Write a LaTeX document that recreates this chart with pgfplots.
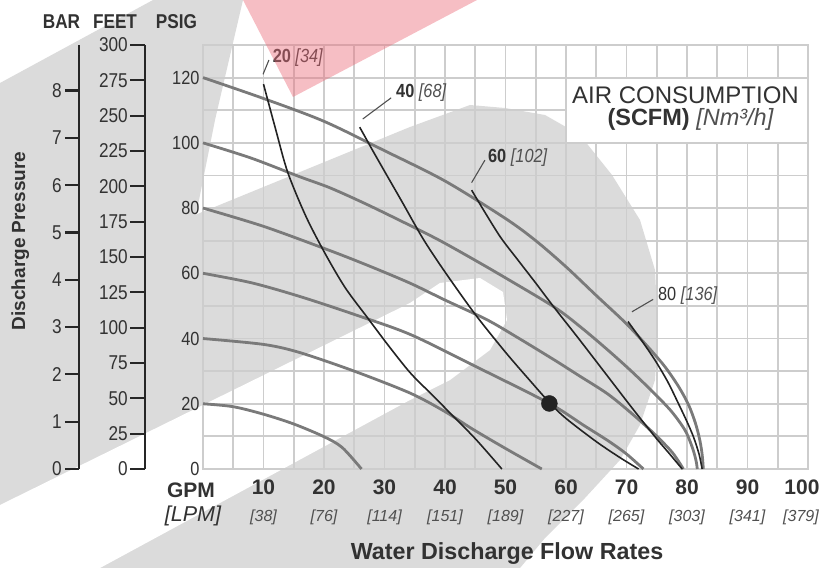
\documentclass[border=0pt]{standalone}
\usepackage{pgfplots}
\pgfplotsset{compat=1.18}
\usepackage{fontspec}
\setmainfont{Liberation Sans}
\newfontfamily\cond{Liberation Sans}[FakeStretch=0.86]
\definecolor{gridc}{RGB}{205,205,205}
\definecolor{curveg}{RGB}{122,122,122}
\definecolor{curveb}{RGB}{35,35,35}
\definecolor{txt}{RGB}{50,50,50}
\definecolor{txtl}{RGB}{80,80,80}
\definecolor{wm}{RGB}{219,219,219}
\definecolor{pinkwm}{RGB}{236,110,125}
\newcommand{\fs}[1]{\fontsize{#1}{#1}\selectfont}
\begin{document}
\begin{tikzpicture}[x=1pt,y=1pt]
\useasboundingbox (0,0) rectangle (828,568);
% watermark (background)
\fill[wm] (0,0) -- (0,485) -- (153,568) -- (243,568) -- (215,448) -- (196,353) -- (196,0) -- cycle;
\fill[wm] (195,0) -- (195,353) -- (410,441) -- (470,463) -- (505,460) -- (545,453) -- (580,433) -- (612,393) -- (640,348) -- (655,298) -- (658,238) -- (655,188) -- (640,143) -- (620,108) -- (585,70) -- (545,30) -- (520,0) -- cycle;
\fill[white] (0,63) -- (410,265) -- (440,285) -- (480,290) -- (503,276) -- (507,248) -- (490,218) -- (450,188) -- (410,168) -- (100,0) -- (0,0) -- cycle;

\begin{axis}[
  at={(203pt,99pt)}, anchor=south west,
  scale only axis, width=605pt, height=424pt,
  xmin=0, xmax=100, ymin=0, ymax=130,
  xtick={10,20,...,100}, minor xtick={0,5,...,100},
  ytick={0,20,...,120}, minor ytick={10,30,...,130},
  grid=both,
  major grid style={gridc, line width=1.8pt},
  minor grid style={gridc, line width=1.8pt},
  axis line style={gridc, line width=1.8pt},
  major tick length=0pt, minor tick length=0pt,
  /pgf/number format/assume math mode=true,
  xticklabels={10,20,30,40,50,60,70,80,90,{100\hspace*{12pt}}},
  xticklabel style={font=\fs{21}\bfseries, text=txt, yshift=-7pt},
  yticklabel style={font=\cond\fs{19}, text=txt},
  clip=false,
]
% performance curves (inlet air pressure)
\addplot[curveg, line width=2.8pt, smooth, tension=0.5] coordinates {(0,20) (5,19.1) (10,16.8) (15,13.8) (20,9.9) (23,6.6) (26.2,0)};
\addplot[curveg, line width=2.8pt, smooth, tension=0.5] coordinates {(0,40) (10,38.2) (16,35.7) (25,30) (34.2,23.3) (40,17.6) (44.5,12.3) (50,6.3) (56,0)};
\addplot[curveg, line width=2.8pt, smooth, tension=0.5] coordinates {(0,60) (8,57.1) (16,52.9) (25,47.4) (34.2,41.3) (45,31.5) (57.25,20.1) (63,13.3) (67,8.6) (70,4.6) (72.8,0)};
\addplot[curveg, line width=2.8pt, smooth, tension=0.5] coordinates {(0,80) (10,74.4) (20.5,67.3) (27,62.6) (34.2,57) (40,51.8) (46.9,45.8) (52,40.3) (58.1,33.4) (62,28.8) (66.9,23) (71,16.8) (74.7,10.6) (77.6,5) (79.4,0)};
\addplot[curveg, line width=2.8pt, smooth, tension=0.5] coordinates {(0,100) (8,95.3) (16,89.6) (21,86.2) (27,81.2) (34.2,74.7) (39.2,70) (44.6,64.4) (50,58.6) (58.1,49.6) (62.5,43.4) (66.9,36.5) (70.8,30) (74.7,23) (77.5,17.5) (79.7,11.8) (80.9,6.5) (81.5,2.5) (81.7,0)};
\addplot[curveg, line width=2.8pt, smooth, tension=0.5] coordinates {(0,120) (10,113.6) (20,106.6) (30,97.6) (40,88.3) (50,76.8) (55,70) (60,62) (65,53.2) (70,44.5) (74,36.5) (76.5,31) (78.7,25) (80.3,19.5) (81.4,14) (82.1,9) (82.5,4.5) (82.7,0)};
% air consumption curves
\addplot[curveb, line width=1.6pt, smooth, tension=0.5] coordinates {(10,118) (12,104.2) (14,91) (17,77.5) (20.2,66) (23.5,55.6) (27.1,46.6) (30.5,38.2) (34.2,29.6) (37.5,23.4) (40.5,17.8) (45,9.3) (49.4,0)};
\addplot[curveb, line width=1.6pt, smooth, tension=0.5] coordinates {(25.9,104.8) (28,97.8) (30,91.3) (33,81.6) (36.4,70.5) (40,60.4) (45,47.4) (50,35.8) (54,27.2) (57.25,20.4) (60,15.5) (65,8.4) (69,3.4) (72,0)};
\addplot[curveb, line width=1.6pt, smooth, tension=0.5] coordinates {(44.4,85.5) (46.5,79) (49.2,71) (52,64.2) (55,57) (58.1,49.4) (62,40.2) (66.9,28.4) (70.8,19) (74.7,9.9) (77,4.9) (79.2,0)};
\addplot[curveb, line width=1.6pt, smooth, tension=0.5] coordinates {(70.25,45.2) (72.5,39.4) (74.7,33.4) (76.8,26.8) (78.6,20) (80,14.5) (81.1,9.7) (82,4.5) (82.5,0)};
% operating point
\addplot[only marks, mark=*, mark size=8pt, curveb] coordinates {(57.25,20.1)};
% leader lines and labels
\draw[txtl, line width=1.1pt] (axis cs:9.92,121) -- (axis cs:10.9,125.4);
\draw[txtl, line width=1.1pt] (axis cs:26.4,107.3) -- (axis cs:31.1,113.8);
\draw[txtl, line width=1.1pt] (axis cs:44.4,87.8) -- (axis cs:46.6,94.7);
\draw[txtl, line width=1.1pt] (axis cs:70.9,48.2) -- (axis cs:74.4,52.0);
\node[anchor=west, inner sep=0pt, font=\cond\fs{19}, text=txt] at (axis cs:11.5,126.2) {\textbf{20} \textit{[34]}};
\node[anchor=west, inner sep=0pt, font=\cond\fs{19}, text=txt] at (axis cs:31.9,115.4) {\textbf{40} {\color{txtl}\textit{[68]}}};
\node[anchor=west, inner sep=0pt, font=\cond\fs{19}, text=txt] at (axis cs:47.1,95.6) {\textbf{60} {\color{txtl}\textit{[102]}}};
\node[anchor=west, inner sep=0pt, font=\cond\fs{19}, text=txt] at (axis cs:75.2,53.3) {80 {\color{txtl}\textit{[136]}}};
% title box
\fill[white] (axis cs:60.15,100.3) rectangle (axis cs:99.85,119.7);
\node[font=\fs{24}, text=txt] at (axis cs:79.75,114.6) {AIR CONSUMPTION};
\node[font=\fs{23.5}, text=txt] at (axis cs:80.6,107.2) {\textbf{(SCFM)} {\color{txtl}\textit{[Nm³/h]}}};
\end{axis}

% FEET scale
\begin{axis}[
  at={(145pt,99pt)}, anchor=south west,
  scale only axis, width=20pt, height=424pt,
  xmin=0, xmax=1, ymin=0, ymax=300,
  hide x axis, axis y line*=left,
  y axis line style={-, black!85, line width=2.2pt},
  ytick={0,25,...,300}, tick align=outside, major tick length=15pt,
  tick style={black!85, line width=2.2pt},
  /pgf/number format/assume math mode=true,
  yticklabel style={font=\cond\fs{20}, text=txt, inner sep=2pt},
]
\addplot[draw=none] coordinates {(0,0) (1,300)};
\end{axis}

% BAR scale
\begin{axis}[
  at={(79pt,99pt)}, anchor=south west,
  scale only axis, width=20pt, height=424pt,
  xmin=0, xmax=1, ymin=0, ymax=8.9633,
  hide x axis, axis y line*=left,
  y axis line style={-, black!85, line width=2.2pt},
  ytick={0,1,...,8}, tick align=outside, major tick length=14pt,
  tick style={black!85, line width=2.2pt},
  /pgf/number format/assume math mode=true,
  yticklabel style={font=\cond\fs{20}, text=txt, inner sep=3pt},
]
\addplot[draw=none] coordinates {(0,0) (1,8)};
\end{axis}

% headings and axis titles
\node[anchor=base, font=\cond\fs{20}\bfseries, text=txt] at (61.5,539) {BAR};
\node[anchor=base, font=\cond\fs{20}\bfseries, text=txt] at (115,539) {FEET};
\node[anchor=base, font=\cond\fs{20}\bfseries, text=txt] at (176.5,539) {PSIG};
\node[anchor=base, rotate=90, font=\fs{19}\bfseries, text=txt] at (25,327) {Discharge Pressure};
\node[anchor=base, font=\fs{21}\bfseries, text=txt] at (191,70) {GPM};
\node[anchor=base, font=\fs{21.5}\itshape, text=txt] at (193,46) {[LPM]};
\foreach \g/\l in {10/38,20/76,30/114,40/151,50/189,60/227,70/265,80/303,90/341} {
  \node[anchor=base, font=\fs{16}\itshape, text=txtl] at ({203+6.05*\g},46.5) {[\l]};
}
\node[anchor=base, font=\fs{16}\itshape, text=txtl] at (801,46.5) {[379]};
\node[anchor=base, font=\fs{23.3}\bfseries, text=txt] at (507,8) {Water Discharge Flow Rates};
% pink accent (overlay)
\fill[pinkwm, fill opacity=0.45] (243,568) -- (477,568) -- (293,471) -- cycle;
\end{tikzpicture}
\end{document}
